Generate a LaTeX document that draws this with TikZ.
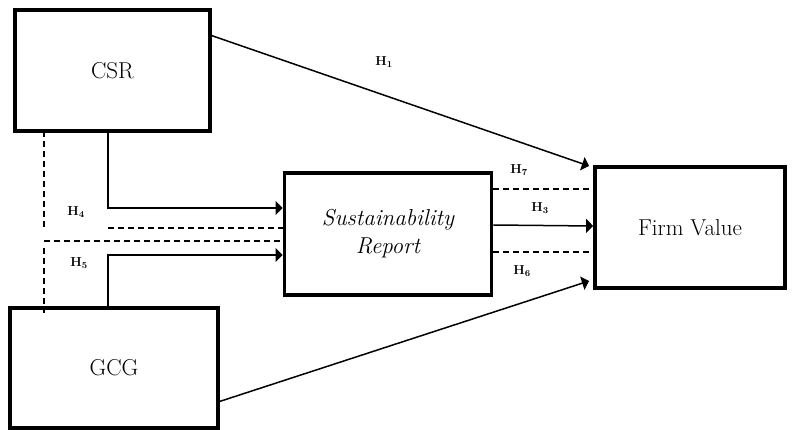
\documentclass[tikz,border=0pt]{standalone}
\usepackage{tikz}
\usetikzlibrary{arrows,calc}

\tikzset{
  varbox/.style={draw,line width=3.6pt,rectangle,align=center,font=\fontsize{23}{30}\selectfont},
  hyp/.style={font=\fontsize{13}{15}\selectfont\bfseries},
  link/.style={line width=1.5pt},
  dlink/.style={line width=1.5pt,dash pattern=on 6pt off 4pt}
}

\begin{document}
\begin{tikzpicture}[x=1pt,y=-1pt, >=triangle 90]
\useasboundingbox (0,0) rectangle (792,430);
\begin {scope}
  \node [varbox,minimum width=195pt,minimum height=121pt] (csr) at (112.5,70.5) {CSR};
  \node [varbox,minimum width=208pt,minimum height=120pt] (gcg) at (114,368) {GCG};
  \node [varbox,minimum width=207pt,minimum height=122pt] (sr) at (388,234) {\itshape Sustainability\\[-2pt]\itshape Report};
  \node [varbox,minimum width=190pt,minimum height=121pt] (fv) at (690,227.5) {Firm Value};

  \coordinate (csrout) at (210,35);
  \coordinate (gcgout) at (218,402);
  \coordinate (fvtop) at (589,166);
  \coordinate (fvbot) at (589,281);
  \coordinate (csrdash) at (44,131);
  \coordinate (knee) at (44,227);
  \coordinate (split) at (44,241);
  \coordinate (gcgdash) at (44,313);
  \coordinate (h4corner) at (108,208);
  \coordinate (h4low) at (108,228);
  \coordinate (h5corner) at (108,255);

  % direct paths
  \draw [link,->] (csrout) -- (fvtop);
  \draw [link,->] (gcgout) -- (fvbot);

  % mediation via the report
  \draw [link,->] (csr.south -| h4corner) -- (h4corner) -- (sr.west |- h4corner);
  \draw [link,->] (gcg.north -| h5corner) -- (h5corner) -- (sr.west |- h5corner);
  \draw [dlink] (h4low) -- (sr.west |- h4low);
  \draw [dlink] (csrdash) -- (knee);
  \draw [dlink] (split) -- (sr.west |- split);
  \draw [dlink] (44,248) -- (gcgdash);

  \draw [dlink] (sr.east |- 0,189) -- (fv.west |- 0,189);
  \draw [link,->] (sr.east |- 0,225) -- (fv.west |- 0,226);
  \draw [dlink] (sr.east |- 0,252) -- (fv.west |- 0,252);

  \node [hyp] (h1) at (384,62) {H\textsubscript{1}};
  \node [hyp] (h3) at (540,208) {H\textsubscript{3}};
  \node [hyp] (h4) at (76,212) {H\textsubscript{4}};
  \node [hyp] (h5) at (79,263) {H\textsubscript{5}};
  \node [hyp] (h6) at (522,271) {H\textsubscript{6}};
  \node [hyp] (h7) at (519,170) {H\textsubscript{7}};
\end {scope}
\end{tikzpicture}
\end{document}
